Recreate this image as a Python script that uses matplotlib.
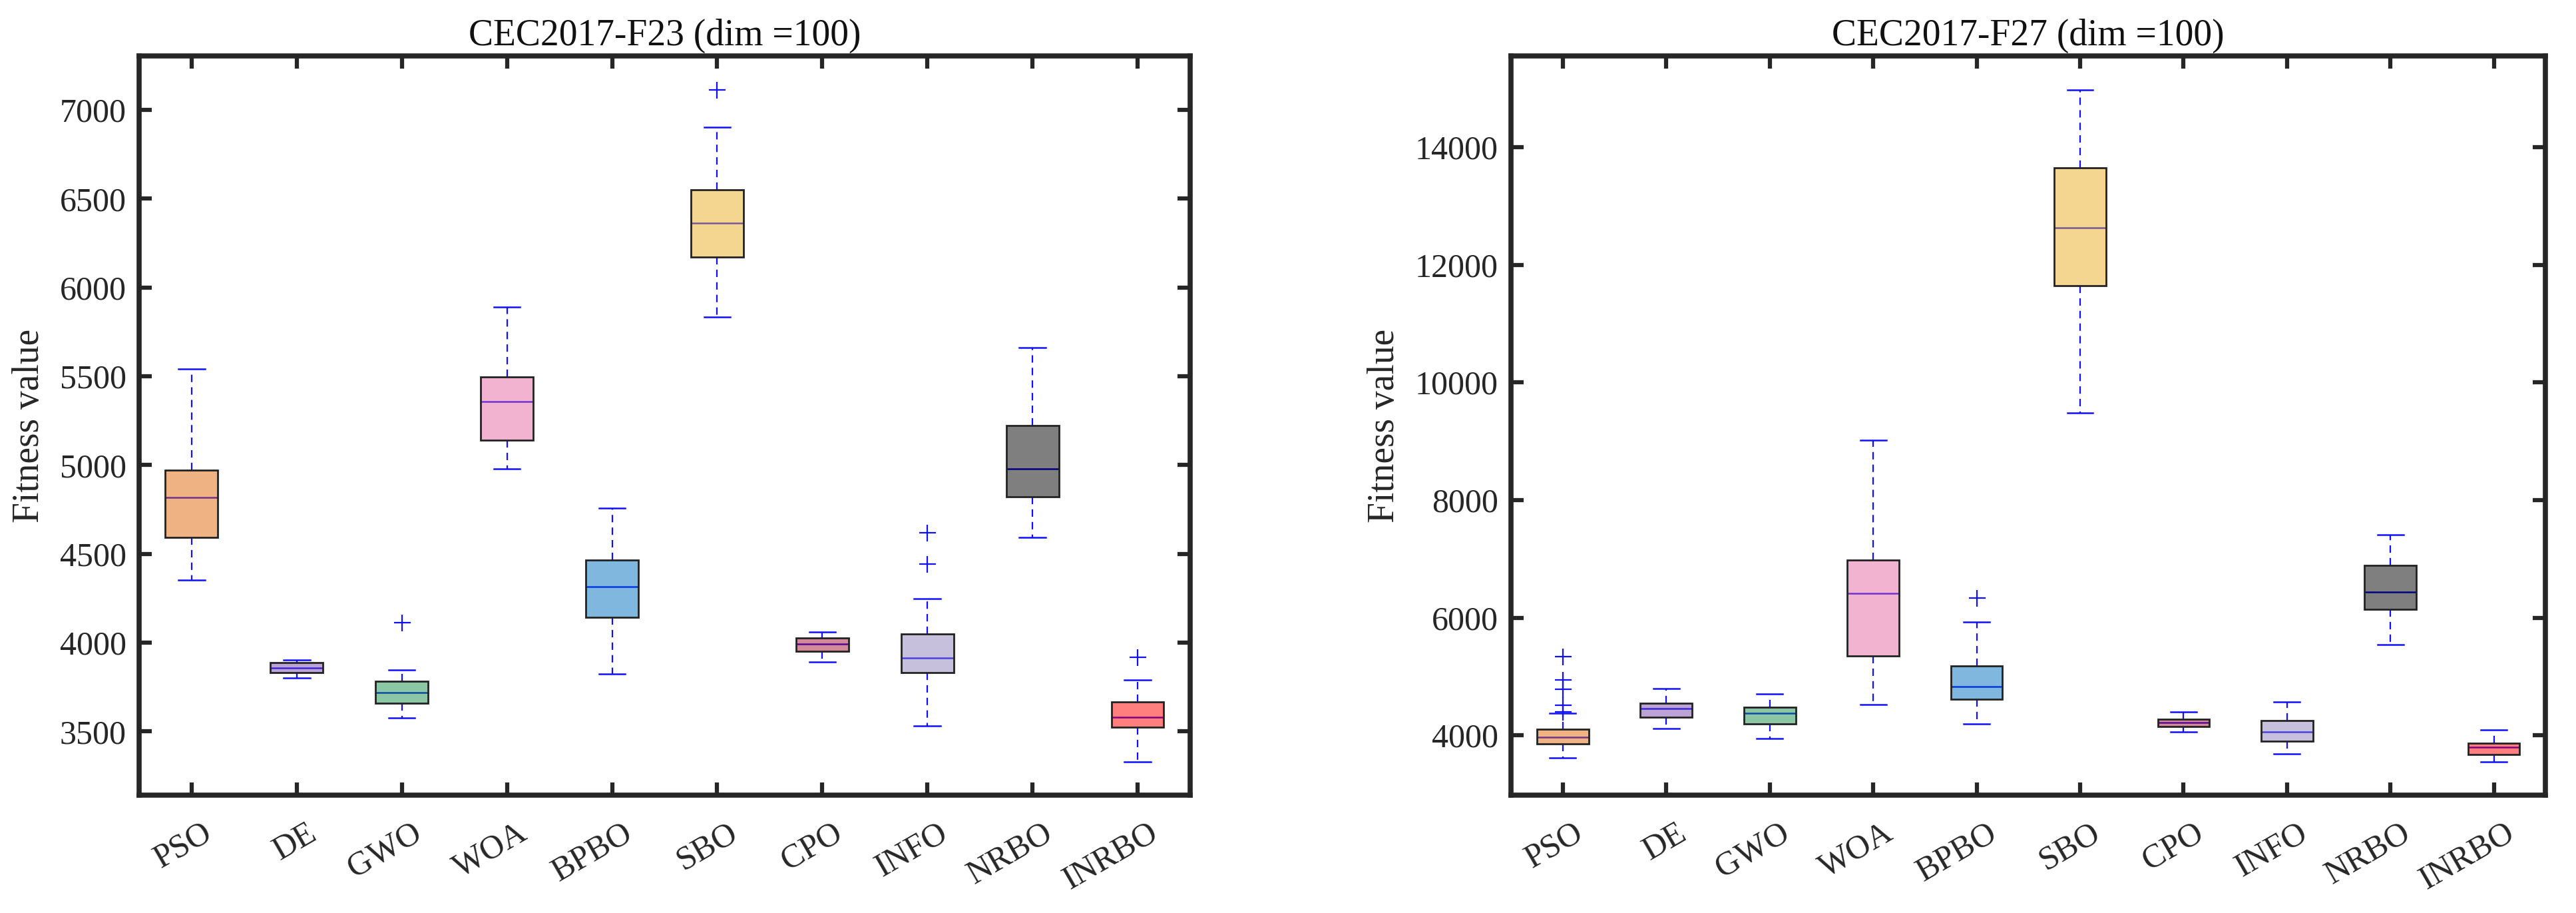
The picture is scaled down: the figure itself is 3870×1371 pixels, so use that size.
import matplotlib
matplotlib.use('Agg')
import matplotlib.pyplot as plt
from matplotlib.transforms import ScaledTranslation

plt.rcParams['font.family'] = ['Liberation Serif', 'DejaVu Serif']

names = ['PSO', 'DE', 'GWO', 'WOA', 'BPBO', 'SBO', 'CPO', 'INFO', 'NRBO', 'INRBO']

# colours of the box patches (drawn with alpha 0.5, like patch(...,'FaceAlpha',.5))
box_colors = ['#e16709', '#794bad', '#19914b', '#e569a1', '#0071c1',
              '#edaf25', '#a91531', '#9183bd', '#000000', '#ff0000']

# CEC2017-F23 (dim = 100)
f23_lo = [4353, 3803, 3578, 4978, 3822, 5832, 3891, 3531, 4592, 3330]
f23_q1 = [4591, 3832, 3658, 5141, 4143, 6171, 3951, 3832, 4823, 3524]
f23_med = [4816, 3858, 3719, 5359, 4314, 6361, 3992, 3913, 4978, 3579]
f23_q3 = [4971, 3887, 3781, 5498, 4465, 6549, 4025, 4047, 5223, 3667]
f23_hi = [5542, 3904, 3848, 5889, 4756, 6901, 4059, 4248, 5663, 3789]
f23_out = [[], [], [4114], [], [], [7114], [], [4618, 4441], [], [3916]]

# CEC2017-F27 (dim = 100)
f27_lo = [3623, 4118, 3948, 4525, 4192, 9479, 4062, 3688, 5538, 3553]
f27_q1 = [3853, 4305, 4192, 5345, 4618, 11643, 4151, 3896, 6140, 3673]
f27_med = [3966, 4460, 4379, 6410, 4826, 12624, 4218, 4062, 6431, 3803]
f27_q3 = [4102, 4549, 4483, 6982, 5179, 13651, 4275, 4249, 6894, 3870]
f27_hi = [4381, 4798, 4707, 9018, 5922, 14976, 4395, 4571, 7408, 4094]
f27_out = [[5342, 4943, 4788, 4516, 4395], [], [], [], [6333], [], [], [], [], []]

f23_ticks = [3500, 4000, 4500, 5000, 5500, 6000, 6500, 7000]
f27_ticks = [4000, 6000, 8000, 10000, 12000, 14000]


def draw(ax, lo, q1, med, q3, hi, out, yticks, title):
    stats = []
    for i in range(len(names)):
        stats.append({'whislo': lo[i], 'q1': q1[i], 'med': med[i], 'q3': q3[i],
                      'whishi': hi[i], 'fliers': out[i], 'label': names[i]})
    pos = list(range(1, len(names) + 1))
    bp = ax.bxp(stats, positions=pos, widths=0.5, capwidths=0.25,
                patch_artist=True, showfliers=True,
                boxprops=dict(edgecolor='#222222', linewidth=2.0, zorder=3),
                whiskerprops=dict(color='#1010ff', linewidth=1.6, linestyle=(0, (5, 3.5))),
                capprops=dict(color='#1010ff', linewidth=1.8),
                medianprops=dict(color='#0000ff', linewidth=1.8, zorder=2.5),
                flierprops=dict(marker='+', markeredgecolor='#1010ff', markersize=18,
                                markeredgewidth=1.6, linestyle='none'))
    for patch, c in zip(bp['boxes'], box_colors):
        patch.set_facecolor(matplotlib.colors.to_rgba(c, 0.5))

    allv = lo + hi + [v for o in out for v in o]
    vmin, vmax = min(allv), max(allv)
    rng = vmax - vmin
    ax.set_ylim(vmin - 0.05 * rng, vmax + 0.05 * rng)
    ax.set_xlim(0.5, len(names) + 0.5)
    ax.set_yticks(yticks)
    ax.set_yticklabels([str(t) for t in yticks])
    ax.set_xticks(pos)
    ax.set_xticklabels(names, rotation=30, ha='right', va='top', rotation_mode='anchor')

    for sp in ax.spines.values():
        sp.set_linewidth(5.5)
        sp.set_color('#262626')
    ax.tick_params(axis='both', direction='in', length=14, width=4.5, color='#262626',
                   labelcolor='#262626', top=True, right=True, labelsize=36)
    ax.tick_params(axis='y', pad=14)
    ax.tick_params(axis='x', pad=24)
    off = ScaledTranslation(15 / 100, 0, ax.figure.dpi_scale_trans)
    for lbl in ax.get_xticklabels():
        lbl.set_transform(lbl.get_transform() + off)

    ax.set_title(title, fontsize=40, pad=12, color='#111111')
    ax.set_ylabel('Fitness value', fontsize=40, labelpad=14, color='#262626')


fig = plt.figure(figsize=(38.7, 13.71), dpi=100)
ax1 = fig.add_axes([0.054, 0.129, 0.408, 0.8096])
ax2 = fig.add_axes([0.5866, 0.129, 0.4016, 0.8096])

draw(ax1, f23_lo, f23_q1, f23_med, f23_q3, f23_hi, f23_out, f23_ticks, 'CEC2017-F23 (dim =100)')
draw(ax2, f27_lo, f27_q1, f27_med, f27_q3, f27_hi, f27_out, f27_ticks, 'CEC2017-F27 (dim =100)')

fig.savefig('out.png', dpi=100)
